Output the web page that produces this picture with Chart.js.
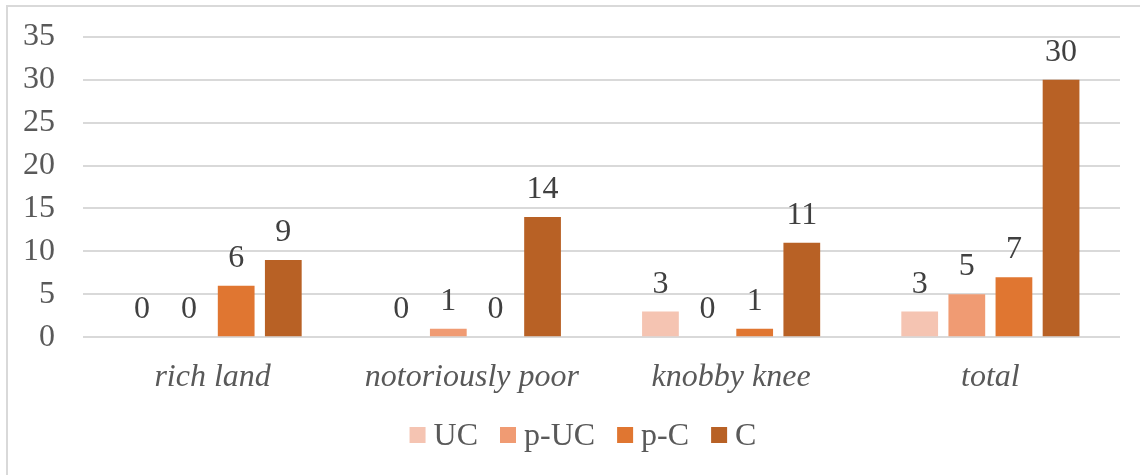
<!DOCTYPE html>
<html>
<head>
<meta charset="utf-8">
<script src="https://cdn.jsdelivr.net/npm/chart.js@4"></script>
<style>
  html, body { margin: 0; padding: 0; background: #fff; }
  #wrap { position: relative; width: 1140px; height: 475px; }
</style>
</head>
<body>
<div id="wrap"><canvas id="c" width="1140" height="475"></canvas></div>
<script>
const categories = ["rich land", "notoriously poor", "knobby knee", "total"];
const seriesNames = ["UC", "p-UC", "p-C", "C"];
const ucValues = [0, 0, 3, 3];
const pucValues = [0, 1, 0, 5];
const pcValues = [6, 0, 1, 7];
const cValues = [9, 14, 11, 30];
const yTicks = [0, 5, 10, 15, 20, 25, 30, 35];
const seriesColors = ["#F5C4B2", "#F09B73", "#E07631", "#B86125"];

const FONT = '"Liberation Serif", "Times New Roman", serif';
const FS = 32;
const seriesValues = [ucValues, pucValues, pcValues, cValues];

const frame = {
  id: 'frame',
  beforeDraw(chart) {
    const ctx = chart.ctx;
    ctx.save();
    ctx.fillStyle = '#fff';
    ctx.fillRect(0, 0, chart.width, chart.height);
    ctx.fillStyle = '#d9d9d9';
    ctx.fillRect(6, 5, chart.width - 6, 2);
    ctx.fillRect(6, 5, 2, chart.height - 5);
    ctx.restore();
  }
};

const dataLabels = {
  id: 'dataLabels',
  afterDatasetsDraw(chart) {
    const ctx = chart.ctx;
    ctx.save();
    ctx.font = FS + 'px ' + FONT;
    ctx.fillStyle = '#404040';
    ctx.textAlign = 'center';
    ctx.textBaseline = 'alphabetic';
    chart.data.datasets.forEach((ds, di) => {
      const meta = chart.getDatasetMeta(di);
      meta.data.forEach((el, i) => {
        ctx.fillText(String(ds.data[i]), el.x, el.y - 19);
      });
    });
    ctx.restore();
  }
};

const customLegend = {
  id: 'customLegend',
  afterDraw(chart) {
    const ctx = chart.ctx;
    ctx.save();
    ctx.font = FS + 'px ' + FONT;
    const box = 16, gapText = 8, gapItem = 22;
    const widths = seriesNames.map(n => ctx.measureText(n).width);
    let total = 0;
    widths.forEach((w, i) => { total += box + gapText + w + (i < widths.length - 1 ? gapItem : 0); });
    let x = 583 - total / 2;
    const baseline = 445;
    ctx.textBaseline = 'alphabetic';
    ctx.textAlign = 'left';
    seriesNames.forEach((n, i) => {
      ctx.fillStyle = seriesColors[i];
      ctx.fillRect(x, 427, box, box);
      ctx.fillStyle = '#595959';
      ctx.fillText(n, x + box + gapText, baseline);
      x += box + gapText + widths[i] + gapItem;
    });
    ctx.restore();
  }
};

new Chart(document.getElementById('c'), {
  type: 'bar',
  data: {
    labels: categories,
    datasets: seriesNames.map((name, i) => ({
      label: name,
      data: seriesValues[i],
      backgroundColor: seriesColors[i],
      borderWidth: 0,
      categoryPercentage: 0.727,
      barPercentage: 0.78
    }))
  },
  options: {
    responsive: false,
    animation: false,
    devicePixelRatio: 1,
    layout: { padding: { top: 36.7, right: 20, bottom: 0, left: 0 } },
    plugins: {
      legend: { display: false },
      tooltip: { enabled: false }
    },
    scales: {
      x: {
        grid: { display: false },
        border: { display: false },
        ticks: {
          color: '#595959',
          font: { family: FONT, size: FS, style: 'italic' },
          padding: 13,
          maxRotation: 0
        },
        afterFit(scale) { scale.height = 137.7; scale.paddingLeft = 0; scale.paddingRight = 0; }
      },
      y: {
        min: 0,
        max: 35,
        afterBuildTicks(scale) { scale.ticks = yTicks.map(v => ({ value: v })); },
        grid: { color: '#d9d9d9', lineWidth: 2, drawTicks: false },
        border: { display: false },
        ticks: {
          color: '#595959',
          font: { family: FONT, size: FS },
          padding: 28
        },
        afterFit(scale) { scale.width = 83; scale.paddingTop = 0; scale.paddingBottom = 0; }
      }
    }
  },
  plugins: [frame, dataLabels, customLegend]
});
</script>
</body>
</html>
